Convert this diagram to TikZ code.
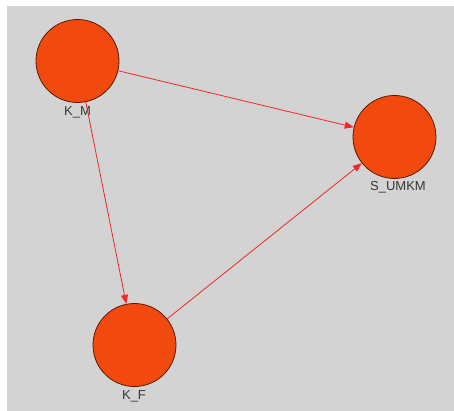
\documentclass[tikz,border=0pt]{standalone}
\usepackage{fontspec}
\setmainfont{Liberation Sans}
\usepackage{xcolor}
\usetikzlibrary{arrows.meta,positioning}

\definecolor{bggray}{RGB}{211,211,211}
\definecolor{nodefill}{RGB}{242,74,14}
\definecolor{nodeline}{RGB}{90,25,5}
\definecolor{edgered}{RGB}{240,40,40}
\definecolor{labelgray}{RGB}{55,55,60}

\tikzset{
  var/.style={circle, fill=nodefill, draw=nodeline, line width=0.8pt, minimum size=83pt, inner sep=0pt},
  varlabel/.style={anchor=north, inner sep=0pt, text=labelgray, font=\fontsize{13}{15}\selectfont},
  link/.style={draw=edgered, line width=0.8pt, -{Triangle[length=9pt,width=7pt]}}
}

\begin{document}
\begin{tikzpicture}[x=1pt, y=-1pt]
\useasboundingbox (0,0) rectangle (454,411);
% Canvas
\fill[bggray] (7,6) rectangle (454,411);

% Variables
\node[var] (km) at (77.5,61) {};
\node[var] (su) at (394.5,137) {};
\node[var] (kf) at (134.5,345) {};

\node[varlabel] (kmlab) at (77.5,106) {K\_M};
\node[varlabel] (sulab) at (398,181.5) {S\_UMKM};
\node[varlabel] (kflab) at (134,390) {K\_F};

% Paths
\draw[link] (km) -- (su);
\draw[link] (km) -- (kf);
\draw[link] (kf) -- (su);

\end{tikzpicture}
\end{document}
